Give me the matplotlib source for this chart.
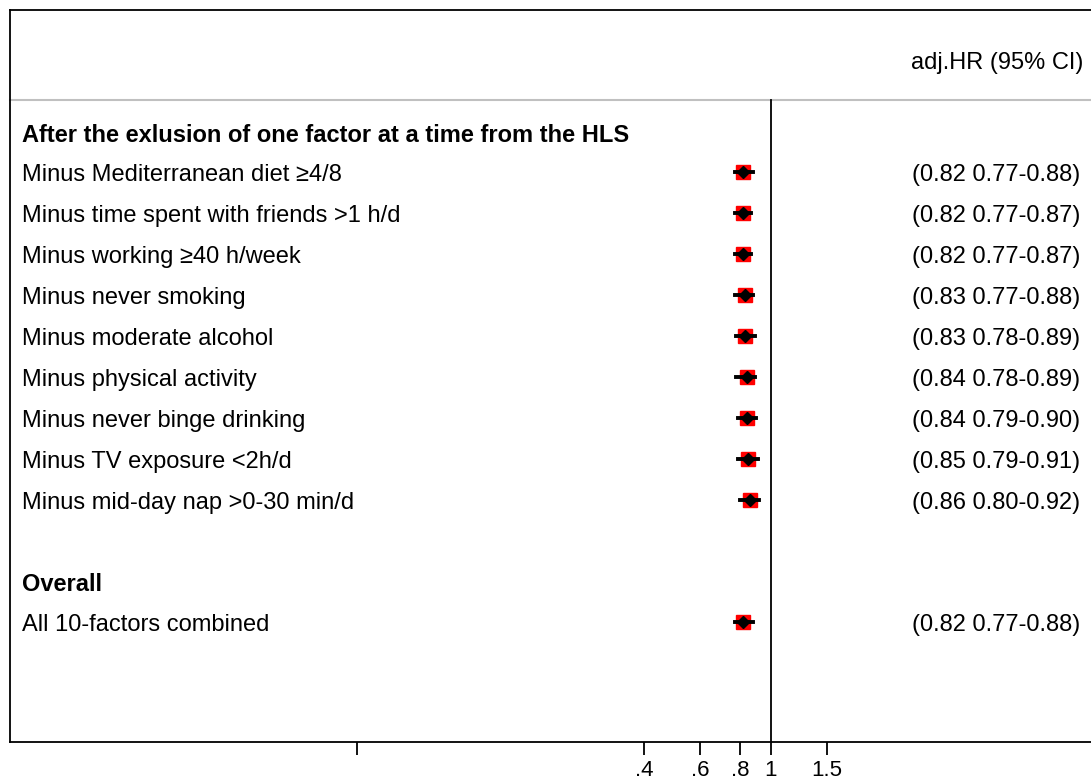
import numpy as np
import matplotlib
matplotlib.use("Agg")
import matplotlib.pyplot as plt
import matplotlib.transforms as mtransforms

plt.rcParams['font.family'] = ['Liberation Sans', 'DejaVu Sans']

# data
labels = [
    "Minus Mediterranean diet \u22654/8",
    "Minus time spent with friends >1 h/d",
    "Minus working \u226540 h/week",
    "Minus never smoking",
    "Minus moderate alcohol",
    "Minus physical activity",
    "Minus never binge drinking",
    "Minus TV exposure <2h/d",
    "Minus mid-day nap >0-30 min/d",
]
hr = [0.82, 0.82, 0.82, 0.83, 0.83, 0.84, 0.84, 0.85, 0.86]
lo = [0.77, 0.77, 0.77, 0.77, 0.78, 0.78, 0.79, 0.79, 0.80]
hi = [0.88, 0.87, 0.87, 0.88, 0.89, 0.89, 0.90, 0.91, 0.92]

overall_label = "All 10-factors combined"
overall_hr, overall_lo, overall_hi = 0.82, 0.77, 0.88

tick_vals = [0.05, 0.4, 0.6, 0.8, 1, 1.5]
tick_labels = ["", ".4", ".6", ".8", "1", "1.5"]

FS = 17
W, H = 1091, 782
fig = plt.figure(figsize=(W / 100, H / 100), dpi=100)
ax = fig.add_axes([10 / W, 40 / H, 1 - 10 / W, (742 - 10) / H])
ax.set_xscale("log")
ax.set_xlim(np.exp(-5.51), np.exp(2.32))
ax.set_ylim(15.9, -1.95)

ax.spines["right"].set_visible(False)
for s in ["left", "top", "bottom"]:
    ax.spines[s].set_linewidth(1.3)

ax.set_yticks([])
ax.set_xticks(tick_vals)
ax.set_xticklabels(tick_labels, fontsize=16)
ax.xaxis.set_minor_locator(matplotlib.ticker.NullLocator())
ax.tick_params(axis="x", direction="out", length=9, width=1.3, pad=4)

trans = mtransforms.blended_transform_factory(ax.transAxes, ax.transData)
dy = 0.07  # small downward nudge for text

# header
ax.text(0.9925, -0.73 + dy, "adj.HR (95% CI)", transform=trans, ha="right",
        va="center", fontsize=FS)
ax.plot([0, 1], [0.25, 0.25], transform=trans, color="#c0c0c0", lw=1.5,
        clip_on=False)

# null line
ax.plot([1, 1], [0.25, 15.9], color="black", lw=1.3)

label_x = 12 / (W - 10)
ci_x = 1070 / (W - 10)


def draw_row(y, name, h, l, u):
    ax.text(label_x, y + dy, name, transform=trans, ha="left", va="center",
            fontsize=FS)
    ax.plot([l, u], [y, y], color="black", lw=2.8, zorder=3)
    ax.plot(h, y, marker="s", ms=9.5, color="red", mec="red", zorder=2)
    ax.plot(h, y, marker="D", ms=6, color="black", zorder=4)
    ax.text(ci_x, y + dy, "(%.2f %.2f-%.2f)" % (h, l, u), transform=trans,
            ha="right", va="center", fontsize=FS)


ax.text(label_x, 1.05 + dy, "After the exlusion of one factor at a time from the HLS",
        transform=trans, ha="left", va="center", fontsize=FS,
        fontweight="bold")
for i in range(len(labels)):
    draw_row(2 + i, labels[i], hr[i], lo[i], hi[i])

ax.text(label_x, 12 + dy, "Overall", transform=trans, ha="left", va="center",
        fontsize=FS, fontweight="bold")
draw_row(12.97, overall_label, overall_hr, overall_lo, overall_hi)

fig.savefig("out.png", dpi=100)
